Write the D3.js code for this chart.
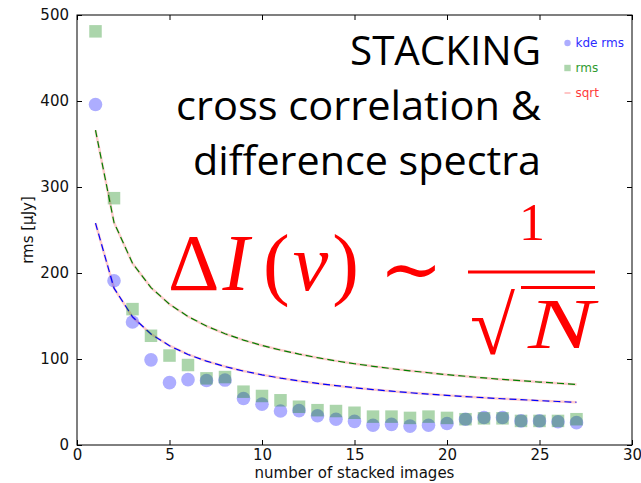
<!DOCTYPE html>
<html>
<head>
<meta charset="utf-8">
<script src="https://cdn.jsdelivr.net/npm/d3@7"></script>
<style>
  body { margin: 0; background: #fff; }
  svg { display: block; }
</style>
</head>
<body>
<svg id="chart"></svg>
<script>
const width = 641;
const height = 483;
const margins = { top: 15, right: 9, bottom: 38, left: 77 };

// number of stacked images
const stacks = [1, 2, 3, 4, 5, 6, 7, 8, 9, 10, 11, 12, 13, 14, 15, 16, 17, 18, 19, 20, 21, 22, 23, 24, 25, 26, 27];
// rms values
const kdeRms = [396, 191, 143, 99, 72.5, 76, 75, 75.5, 54, 47.5, 39.5, 40, 34, 30, 27.5, 23, 24, 22, 23, 25, 30, 32, 32, 28, 28, 27, 26];
const rms = [481, 287, 158, 127, 104, 93, 77.5, 79, 62, 57, 52, 44.5, 40.5, 39.5, 37.5, 33, 33, 31.5, 33, 31.5, 30, 31, 31, 28, 28, 28, 30];
// 1/sqrt(N) curves
const kdeFit = [258, 182.4, 149.0, 129.0, 115.4, 105.3, 97.5, 91.2, 86.0, 81.6, 77.8, 74.5, 71.6, 69.0, 66.6, 64.5, 62.6, 60.8, 59.2, 57.7, 56.3, 55.0, 53.8, 52.7, 51.6, 50.6, 49.7];
const rmsFit = [366, 258.8, 211.3, 183.0, 163.7, 149.4, 138.3, 129.4, 122.0, 115.7, 110.4, 105.7, 101.5, 97.8, 94.5, 91.5, 88.8, 86.3, 84.0, 81.8, 79.9, 78.0, 76.3, 74.7, 73.2, 71.8, 70.4];

const xTicks = [0, 5, 10, 15, 20, 25, 30];
const yTicks = [0, 100, 200, 300, 400, 500];

const legendItems = [
  { label: "kde rms", color: "#2b2bff", kind: "circle" },
  { label: "rms", color: "#2e9a2e", kind: "square" },
  { label: "sqrt", color: "#ff3b3b", kind: "line" }
];

const titleLines = ["STACKING", "cross correlation &", "difference spectra"];

const svg = d3.select("#chart")
  .attr("width", width)
  .attr("height", height);

const x = d3.scaleLinear()
  .domain([0, 30])
  .range([margins.left, width - margins.right]);

const y = d3.scaleLinear()
  .domain([0, 500])
  .range([height - margins.bottom, margins.top]);

const font = "'DejaVu Sans', sans-serif";

//* markers
const line = d3.line()
  .x((d, i) => x(stacks[i]))
  .y(d => y(d));

// pale red sqrt curves under the dashed fits
[kdeFit, rmsFit].forEach(fit => {
  svg.append("path")
    .attr("d", line(fit))
    .attr("fill", "none")
    .attr("stroke", "#ff0000")
    .attr("stroke-opacity", 0.2)
    .attr("stroke-width", 2.5);
});

svg.append("path")
  .attr("d", line(kdeFit))
  .attr("fill", "none")
  .attr("stroke", "#0000ff")
  .attr("stroke-width", 1.2)
  .attr("stroke-dasharray", "7,4");

svg.append("path")
  .attr("d", line(rmsFit))
  .attr("fill", "none")
  .attr("stroke", "#008000")
  .attr("stroke-width", 1.2)
  .attr("stroke-dasharray", "7,4");

svg.append("g")
  .selectAll("circle")
  .data(kdeRms)
  .join("circle")
  .attr("cx", (d, i) => x(stacks[i]))
  .attr("cy", d => y(d))
  .attr("r", 6.8)
  .attr("fill", "#0000ff")
  .attr("fill-opacity", 0.32);

const sq = 12.5;
svg.append("g")
  .selectAll("rect")
  .data(rms)
  .join("rect")
  .attr("x", (d, i) => x(stacks[i]) - sq / 2)
  .attr("y", d => y(d) - sq / 2)
  .attr("width", sq)
  .attr("height", sq)
  .attr("fill", "#008000")
  .attr("fill-opacity", 0.33);

//* axes
svg.append("g")
  .attr("transform", `translate(0,${y(0)})`)
  .call(d3.axisBottom(x).tickValues(xTicks).tickFormat(d3.format("d"))
    .tickSizeInner(-5).tickSizeOuter(0).tickPadding(4));
svg.append("g")
  .attr("transform", `translate(0,${y(500)})`)
  .call(d3.axisTop(x).tickValues(xTicks).tickFormat("")
    .tickSizeInner(-5).tickSizeOuter(0));
svg.append("g")
  .attr("transform", `translate(${x(0)},0)`)
  .call(d3.axisLeft(y).tickValues(yTicks).tickFormat(d3.format("d"))
    .tickSizeInner(-5).tickSizeOuter(0).tickPadding(8));
svg.append("g")
  .attr("transform", `translate(${x(30)},0)`)
  .call(d3.axisRight(y).tickValues(yTicks).tickFormat("")
    .tickSizeInner(-5).tickSizeOuter(0));

svg.selectAll(".domain").remove();
svg.selectAll(".tick line").attr("stroke", "#000");
svg.selectAll(".tick text")
  .attr("fill", "#111")
  .style("font-family", font)
  .style("font-size", "15px");

svg.append("rect")
  .attr("x", x(0))
  .attr("y", y(500))
  .attr("width", x(30) - x(0))
  .attr("height", y(0) - y(500))
  .attr("fill", "none")
  .attr("stroke", "#000")
  .attr("stroke-width", 1);

svg.append("text")
  .attr("x", (x(0) + x(30)) / 2)
  .attr("y", 478)
  .attr("text-anchor", "middle")
  .style("font-family", font)
  .style("font-size", "15px")
  .attr("fill", "#111")
  .text("number of stacked images");

svg.append("text")
  .attr("transform", `translate(33,${(y(0) + y(500)) / 2}) rotate(-90)`)
  .attr("text-anchor", "middle")
  .style("font-family", font)
  .style("font-size", "15px")
  .attr("fill", "#111")
  .text("rms [μJy]");

//* legend
const legend = svg.append("g")
  .selectAll("g")
  .data(legendItems)
  .join("g")
  .attr("transform", (d, i) => `translate(567.5,${43 + i * 25})`);

legend.each(function (d) {
  const g = d3.select(this);
  if (d.kind === "circle") {
    g.append("circle").attr("r", 3.2).attr("fill", "#0000ff").attr("fill-opacity", 0.32);
  } else if (d.kind === "square") {
    g.append("rect").attr("x", -3.2).attr("y", -3.2).attr("width", 6.4).attr("height", 6.4)
      .attr("fill", "#008000").attr("fill-opacity", 0.32);
  } else {
    g.append("line").attr("x1", -3).attr("x2", 3).attr("stroke", "#ff0000")
      .attr("stroke-opacity", 0.3).attr("stroke-width", 1.5);
  }
});

legend.append("text")
  .attr("x", 8)
  .attr("y", 4)
  .style("font-family", font)
  .style("font-size", "12px")
  .attr("fill", d => d.color)
  .text(d => d.label);

//* overlay title
const titleFont = "'Open Sans', Lato, sans-serif";
const titleWidths = [191, 365, 348];
svg.append("g")
  .selectAll("text")
  .data(titleLines)
  .join("text")
  .attr("x", 541)
  .attr("y", (d, i) => 65 + i * 55)
  .attr("text-anchor", "end")
  .style("font-family", titleFont)
  .style("font-size", "40px")
  .attr("textLength", (d, i) => titleWidths[i])
  .attr("lengthAdjust", "spacingAndGlyphs")
  .attr("fill", "#000")
  .text(d => d);

//* formula
const math = svg.append("g")
  .attr("fill", "#ff0000")
  .style("font-family", "'Liberation Serif', 'DejaVu Serif', serif");

const lhs = math.append("text")
  .attr("x", 168)
  .attr("y", 290)
  .style("font-size", "80px");
lhs.append("tspan").text("Δ");
lhs.append("tspan").attr("dx", 3).style("font-style", "italic").text("I");
lhs.append("tspan").attr("dx", 14).text("(");
lhs.append("tspan").attr("dx", 3).style("font-style", "italic").text("ν");
lhs.append("tspan").attr("dx", 4).text(")");

math.append("text")
  .attr("x", 411)
  .attr("y", 295)
  .attr("text-anchor", "middle")
  .style("font-size", "76px")
  .text("∼");

math.append("rect")
  .attr("x", 468).attr("y", 270.5)
  .attr("width", 127).attr("height", 3);

math.append("text")
  .attr("x", 532)
  .attr("y", 240)
  .attr("text-anchor", "middle")
  .style("font-size", "52px")
  .text("1");

math.append("text")
  .attr("x", 470)
  .attr("y", 354)
  .style("font-size", "82px")
  .text("√");

math.append("rect")
  .attr("x", 521).attr("y", 286)
  .attr("width", 74).attr("height", 3);

math.append("text")
  .attr("x", 528)
  .attr("y", 348)
  .style("font-size", "72px")
  .style("font-style", "italic")
  .attr("textLength", 66)
  .attr("lengthAdjust", "spacingAndGlyphs")
  .text("N");
</script>
</body>
</html>
